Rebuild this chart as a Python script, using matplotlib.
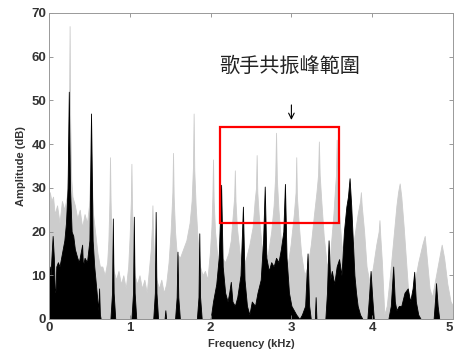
import matplotlib
matplotlib.use("Agg")
import matplotlib.pyplot as plt
from matplotlib.patches import Rectangle

# Light (gray) spectrum: frequency (kHz), amplitude (dB)
gray_f = [0.00, 0.01, 0.03, 0.05, 0.07, 0.10, 0.13, 0.16, 0.19, 0.22,
          0.235, 0.248, 0.255, 0.262, 0.275, 0.29, 0.32, 0.35, 0.38, 0.41,
          0.44, 0.47, 0.495, 0.512, 0.52, 0.528, 0.545, 0.57, 0.60, 0.63,
          0.66, 0.69, 0.72, 0.735, 0.748, 0.755, 0.762, 0.775, 0.80, 0.83,
          0.86, 0.89, 0.92, 0.95, 0.98, 0.998, 1.013, 1.02, 1.027, 1.042,
          1.06, 1.09, 1.12, 1.15, 1.18, 1.21, 1.24, 1.26, 1.273, 1.28,
          1.287, 1.30, 1.33, 1.36, 1.39, 1.42, 1.45, 1.48, 1.505, 1.527,
          1.535, 1.543, 1.56, 1.58, 1.62, 1.66, 1.70, 1.74, 1.765, 1.782,
          1.79, 1.798, 1.815, 1.84, 1.87, 1.90, 1.93, 1.96, 1.99, 2.01,
          2.022, 2.03, 2.038, 2.055, 2.08, 2.11, 2.14, 2.18, 2.22, 2.25,
          2.275, 2.292, 2.30, 2.308, 2.325, 2.36, 2.40, 2.44, 2.48, 2.52,
          2.545, 2.562, 2.57, 2.578, 2.595, 2.63, 2.67, 2.71, 2.75, 2.78,
          2.80, 2.81, 2.82, 2.84, 2.87, 2.91, 2.95, 2.99, 3.03, 3.052,
          3.06, 3.068, 3.09, 3.12, 3.16, 3.20, 3.24, 3.28, 3.31, 3.33,
          3.34, 3.35, 3.37, 3.40, 3.44, 3.48, 3.52, 3.54, 3.552, 3.56,
          3.568, 3.59, 3.62, 3.66, 3.70, 3.74, 3.78, 3.82, 3.85, 3.86,
          3.87, 3.90, 3.93, 3.97, 4.01, 4.05, 4.08, 4.09, 4.10, 4.12,
          4.15, 4.18, 4.22, 4.27, 4.30, 4.32, 4.34, 4.36, 4.39, 4.42,
          4.45, 4.48, 4.52, 4.57, 4.62, 4.65, 4.68, 4.71, 4.74, 4.77,
          4.82, 4.86, 4.89, 4.93, 4.97, 5.00]
gray_a = [22, 29, 27, 28, 24, 26, 22, 27, 25, 28,
          33, 48, 67, 45, 32, 28, 26, 23, 25, 21,
          24, 22, 26, 34, 47, 33, 24, 20, 15, 12,
          12, 10, 13, 18, 27, 37, 27, 17, 11, 9,
          11, 8, 10, 7, 12, 19, 27, 35.5, 26, 17,
          10, 8, 10, 7, 9, 6, 12, 16, 21, 26,
          20, 14, 9, 7, 9, 6, 8, 13, 20, 29,
          38, 28, 20, 15, 14, 16, 18, 22, 27, 35,
          47, 34, 26, 18, 12, 10, 11, 9, 15, 21,
          28, 36.5, 27, 20, 15, 12, 14, 13, 15, 18,
          24, 28, 34, 27, 21, 15, 12, 14, 17, 21,
          27, 30, 37.5, 29, 24, 17, 13, 15, 20, 26,
          33, 42.6, 32, 25, 18, 12, 12, 17, 24, 29,
          37, 28, 22, 15, 10, 12, 17, 24, 29, 33,
          40.6, 33, 27, 19, 12, 15, 24, 30, 33, 41,
          32, 24, 17, 12, 10, 14, 19, 24, 27, 29,
          26, 20, 12, 8, 12, 17, 20, 22.6, 19, 13,
          1, 3, 10, 20, 26, 29, 31, 28, 21, 13,
          5, 1, 8, 13, 17, 19, 13, 7, 5, 8,
          13, 17, 14, 8, 4, 3]

# Dark (black) spectrum: frequency (kHz), amplitude (dB)
black_f = [0.00, 0.01, 0.02, 0.03, 0.045, 0.06, 0.07, 0.08, 0.09, 0.11,
           0.13, 0.15, 0.17, 0.19, 0.21, 0.23, 0.245, 0.26, 0.28, 0.30,
           0.32, 0.35, 0.37, 0.39, 0.41, 0.42, 0.44, 0.47, 0.50, 0.52,
           0.54, 0.56, 0.58, 0.60, 0.61, 0.62, 0.63, 0.64,
           0.76, 0.78, 0.79, 0.80, 0.82,
           1.02, 1.04, 1.05, 1.06, 1.08,
           1.29, 1.31, 1.32, 1.33, 1.35,
           1.43, 1.44, 1.45,
           1.56, 1.58, 1.59, 1.60, 1.62,
           1.83, 1.85, 1.86, 1.87, 1.89,
           2.00, 2.03, 2.07, 2.10, 2.13, 2.15, 2.18, 2.21, 2.23, 2.25,
           2.27, 2.30, 2.33, 2.37, 2.40, 2.42, 2.45, 2.48, 2.51, 2.55,
           2.58, 2.62, 2.65, 2.67, 2.69, 2.72, 2.75, 2.78, 2.81, 2.84,
           2.87, 2.90, 2.92, 2.94, 2.97, 3.00, 3.03, 3.06, 3.10, 3.13,
           3.17, 3.20, 3.22, 3.24, 3.29, 3.30, 3.31, 3.42, 3.44, 3.46,
           3.48, 3.50, 3.53, 3.56, 3.59, 3.62, 3.65, 3.68, 3.70, 3.72,
           3.74, 3.76, 3.78, 3.80, 3.82, 3.85, 3.88,
           3.94, 3.96, 3.98, 4.00, 4.02,
           4.20, 4.23, 4.25, 4.26, 4.28, 4.30, 4.33, 4.36, 4.40, 4.44,
           4.47, 4.50, 4.52, 4.54, 4.57, 4.60,
           4.76, 4.78, 4.79, 4.81, 4.83, 5.00]
black_a = [10, 12, 10, 14, 19, 14, 7, 6, 12, 13,
           12, 14, 16, 18, 22, 30, 52, 30, 20, 19,
           16, 14, 13, 15, 17, 12, 14, 13, 18, 47,
           18, 12, 8, 4, 2, 7, 1, 0,
           0, 6, 23, 6, 0,
           0, 6, 23.4, 6, 0,
           0, 6, 24.5, 6, 0,
           0, 2, 0,
           0, 5, 15.4, 5, 0,
           0, 5, 19.6, 5, 0,
           0, 4, 8, 14, 30.7, 12, 6, 4, 6, 8.5,
           4, 3, 5, 10, 25.7, 9, 3, 1, 4, 3,
           6, 9, 18, 30.3, 14, 11, 13, 12, 14, 13,
           16, 20, 30.9, 14, 6, 3, 2, 1, 0, 1,
           3, 15, 3, 0, 0, 5, 0, 0, 6, 18,
           9, 11, 8, 12, 13.7, 10, 20, 25.7, 28, 32.2,
           26, 18, 10, 6, 3, 1, 0,
           0, 5, 11, 5, 0,
           0, 3, 9, 12, 4, 2, 3, 3, 6, 7,
           4, 7, 10.8, 4, 1, 0,
           0, 5, 8.2, 3, 0, 0]

x_ticks = [0, 1, 2, 3, 4, 5]
y_ticks = [0, 10, 20, 30, 40, 50, 60, 70]
box_f = (2.12, 3.59)
box_a = (22.0, 43.9)
label_text = "歌手共振峰範圍"

plt.rcParams['font.family'] = ['Liberation Sans', 'DejaVu Sans']

fig = plt.figure(figsize=(4.55, 3.51), dpi=100)
ax = fig.add_axes([0.1077, 0.0912, 0.8879, 0.8718])

ax.fill_between(gray_f, 0, gray_a, color='#cccccc', linewidth=0.6, edgecolor='#cccccc')
ax.fill_between(black_f, 0, black_a, color='black', linewidth=0.6, edgecolor='black')

ax.add_patch(Rectangle((box_f[0], box_a[0]), box_f[1] - box_f[0], box_a[1] - box_a[0],
                       fill=False, edgecolor='red', linewidth=1.6, zorder=5))
ax.annotate('', xy=(3.0, 44.9), xytext=(3.0, 49.6),
            arrowprops=dict(arrowstyle='->', color='black', lw=0.8), zorder=6)
ax.text(2.98, 57.7, label_text, ha='center', va='center', fontsize=14.5,
        family=['Noto Sans CJK TC', 'DejaVu Sans'], color='#222222')

ax.set_xlim(0, 5)
ax.set_ylim(0, 70)
ax.set_xticks(x_ticks)
ax.set_xticklabels([str(t) for t in x_ticks])
ax.set_yticks(y_ticks)
ax.set_yticklabels([str(t) for t in y_ticks])
ax.tick_params(direction='in', top=True, right=True, length=3, width=0.6,
               colors='#888888', labelcolor='#333333', labelsize=9.5, pad=2)
for lab in ax.get_xticklabels() + ax.get_yticklabels():
    lab.set_fontweight('bold')
ax.get_xticklabels()[-1].set_horizontalalignment('right')
for s in ax.spines.values():
    s.set_color('#999999')
    s.set_linewidth(0.7)

ax.set_xlabel('Frequency (kHz)', fontsize=8, fontweight='bold', color='#333333', labelpad=4)
ax.set_ylabel('Amplitude (dB)', fontsize=8, fontweight='bold', color='#333333', labelpad=4)

fig.savefig('out.png', dpi=100)
